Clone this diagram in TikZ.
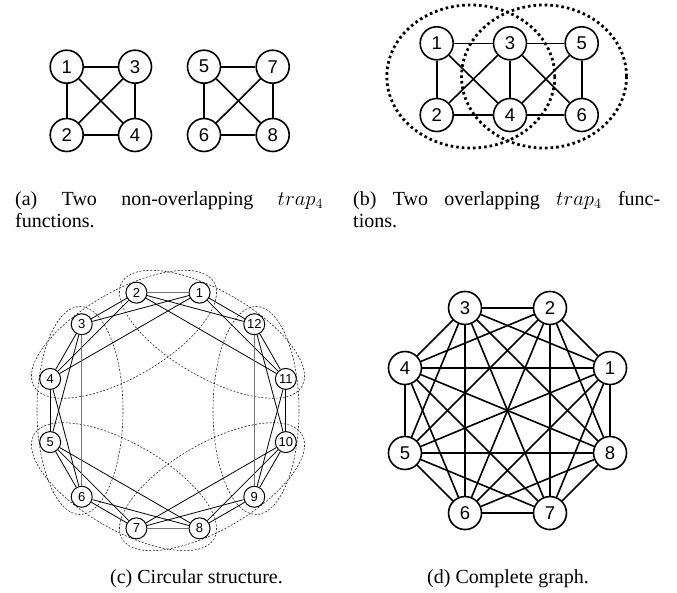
\documentclass[tikz,border=0pt]{standalone}
\usepackage[no-math]{fontspec}
\setmainfont{Liberation Serif}
\newfontfamily\labelfont{Liberation Sans}
\begin{document}
\begin{tikzpicture}[x=1pt,y=-1pt,
  bignode/.style={circle, draw, line width=1.6pt, fill=white, minimum size=33pt,
    inner sep=0pt, font=\labelfont\fontsize{18.5}{18.5}\selectfont},
  bigedge/.style={line width=1.6pt},
  smallnode/.style={circle, draw, line width=1pt, fill=white, minimum size=21pt,
    inner sep=0pt, font=\labelfont\fontsize{13}{13}\selectfont},
  smalledge/.style={line width=0.8pt},
  softedge/.style={line width=1.5pt, black!55},
  groupring/.style={line width=2.8pt, dash pattern=on 2.6pt off 3pt},
  blob/.style={line width=0.6pt, black!85, dash pattern=on 2pt off 1.6pt},
  caption/.style={font=\fontsize{20}{23}\selectfont, inner sep=0pt}]
\useasboundingbox (0,0) rectangle (677,592);

% ---------- (a) two separate trap_4 blocks ----------
\node[bignode] (a1) at (66.7,66.7) {1};
\node[bignode] (a3) at (135,66.7) {3};
\node[bignode] (a2) at (66.7,135) {2};
\node[bignode] (a4) at (135,135) {4};
\node[bignode] (a5) at (204,66.7) {5};
\node[bignode] (a7) at (272.7,66.7) {7};
\node[bignode] (a6) at (204,135) {6};
\node[bignode] (a8) at (272.7,135) {8};
\foreach \u/\v in {a1/a3,a1/a2,a1/a4,a3/a2,a3/a4,a2/a4,
                   a5/a7,a5/a6,a5/a8,a7/a6,a7/a8,a6/a8}
  \draw[bigedge] (\u) -- (\v);

\node[caption, anchor=base west] (capa1) at (15,205)
  {\makebox[308pt][s]{(a) Two non-overlapping $trap_4$}};
\node[caption, anchor=base west] (capa2) at (15,227) {functions.};

% ---------- (b) two overlapping trap_4 blocks ----------
\node[bignode] (b1) at (436.7,43.3) {1};
\node[bignode] (b3) at (510,43.3) {3};
\node[bignode] (b5) at (581.7,43.3) {5};
\node[bignode] (b2) at (436.7,115) {2};
\node[bignode] (b4) at (510,115) {4};
\node[bignode] (b6) at (581.7,115) {6};
\foreach \u/\v in {b1/b3,b1/b2,b1/b4,b2/b3,b2/b4,b3/b4,
                   b3/b5,b3/b6,b4/b5,b4/b6,b5/b6}
  \draw[bigedge] (\u) -- (\v);
\draw[groupring] (470.8,76.5) ellipse [x radius=84, y radius=71.5];
\draw[groupring] (544,76.5) ellipse [x radius=82.5, y radius=71.5];

\node[caption, anchor=base west] (capb1) at (353,205)
  {\makebox[307pt][s]{(b) Two overlapping $trap_4$ func-}};
\node[caption, anchor=base west] (capb2) at (353,227) {tions.};

% ---------- (c) circular chain of overlapping blocks ----------
\begin{scope}[shift={(168,410.5)}, y=1pt]
  \foreach \t in {0,60,...,300}{
    \begin{scope}[rotate=\t]
      \draw[blob] (88,0) ellipse [x radius=43, y radius=104];
    \end{scope}
  }
  \foreach \i/\ang in {1/75,2/105,3/135,4/165,5/195,6/225,
                       7/255,8/285,9/315,10/345,11/15,12/45}
    \node[smallnode] (c\i) at (\ang:122) {\i};
\end{scope}
\foreach \u/\v in {c1/c3,c1/c4,c2/c3,c2/c4,c3/c4,
                   c3/c5,c4/c5,c4/c6,c5/c6,
                   c5/c7,c5/c8,c6/c7,c6/c8,
                   c7/c9,c7/c10,c8/c9,c8/c10,c9/c10,
                   c9/c11,c10/c11,c10/c12,c11/c12,
                   c11/c1,c11/c2,c12/c1,c12/c2}
  \draw[smalledge] (\u) -- (\v);
\foreach \u/\v in {c1/c2,c3/c6,c7/c8,c9/c12}
  \draw[softedge] (\u) -- (\v);

\node[caption, anchor=base] (capc) at (196.5,583) {(c) Circular structure.};

% ---------- (d) complete graph on eight variables ----------
\begin{scope}[shift={(507.5,410.5)}, y=1pt]
  \foreach \i in {1,...,8}
    \node[bignode] (d\i) at ({22.5+45*(\i-1)}:111) {\i};
\end{scope}
\foreach \i in {1,...,7}{
  \pgfmathtruncatemacro\nxt{\i+1}
  \foreach \j in {\nxt,...,8}
    \draw[bigedge] (d\i) -- (d\j);
}

\node[caption, anchor=base] (capd) at (508,583) {(d) Complete graph.};
\end{tikzpicture}
\end{document}
